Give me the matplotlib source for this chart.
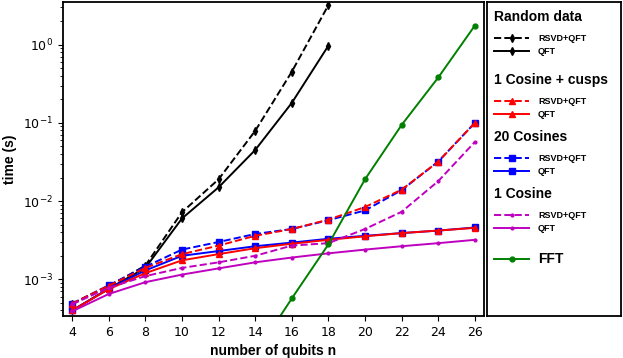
import numpy as np
import matplotlib
matplotlib.use("Agg")
import matplotlib.pyplot as plt

n = [4, 6, 8, 10, 12, 14, 16, 18, 20, 22, 24, 26]
n_rand = [4, 6, 8, 10, 12, 14, 16, 18]
n_fft = [14, 16, 18, 20, 22, 24, 26]

# Random data
rand_rsvd = [4.9e-4, 8.1e-4, 1.5e-3, 7.2e-3, 0.019, 0.079, 0.45, 3.2]
rand_qft = [4.0e-4, 7.6e-4, 1.4e-3, 6.0e-3, 0.015, 0.045, 0.18, 0.97]
# 1 Cosine + cusps
cusp_rsvd = [4.9e-4, 8.3e-4, 1.4e-3, 2.1e-3, 2.7e-3, 3.6e-3, 4.4e-3, 5.8e-3, 8.4e-3, 0.014, 0.032, 0.10]
cusp_qft = [4.0e-4, 7.5e-4, 1.2e-3, 1.75e-3, 2.1e-3, 2.5e-3, 2.85e-3, 3.2e-3, 3.55e-3, 3.9e-3, 4.2e-3, 4.55e-3]
# 20 Cosines
cos20_rsvd = [4.9e-4, 8.4e-4, 1.45e-3, 2.4e-3, 3.0e-3, 3.8e-3, 4.4e-3, 5.7e-3, 7.6e-3, 0.0138, 0.032, 0.10]
cos20_qft = [4.0e-4, 7.6e-4, 1.3e-3, 2.0e-3, 2.3e-3, 2.65e-3, 2.95e-3, 3.3e-3, 3.6e-3, 3.9e-3, 4.2e-3, 4.6e-3]
# 1 Cosine
cos1_rsvd = [4.8e-4, 7.8e-4, 1.1e-3, 1.4e-3, 1.65e-3, 2.0e-3, 2.7e-3, 2.9e-3, 4.4e-3, 7.3e-3, 0.018, 0.057]
cos1_qft = [3.9e-4, 6.5e-4, 9.2e-4, 1.15e-3, 1.38e-3, 1.65e-3, 1.9e-3, 2.15e-3, 2.4e-3, 2.65e-3, 2.9e-3, 3.2e-3]
# FFT
fft = [1.1e-4, 5.7e-4, 2.8e-3, 0.019, 0.094, 0.38, 1.75]

bold_font = ["Liberation Sans", "DejaVu Sans"]

fig = plt.figure(figsize=(6.23, 3.58), dpi=100)
ax = fig.add_axes([0.1011, 0.1173, 0.6758, 0.877])
lax = fig.add_axes([0.7817, 0.1173, 0.2151, 0.877])

lw = 1.4
ax.plot(n_rand, rand_rsvd, "k--", marker="d", ms=4, lw=lw)
ax.plot(n_rand, rand_qft, "k-", marker="d", ms=4, lw=lw)
ax.plot(n, cos20_rsvd, "b--", marker="s", ms=4, lw=lw)
ax.plot(n, cos20_qft, "b-", marker="s", ms=4, lw=lw)
ax.plot(n, cusp_rsvd, "r--", marker="^", ms=4, lw=lw)
ax.plot(n, cusp_qft, "r-", marker="^", ms=4, lw=lw)
ax.plot(n, cos1_rsvd, "m--", marker=".", ms=4, lw=lw)
ax.plot(n, cos1_qft, "m-", marker=".", ms=4, lw=lw)
ax.plot(n_fft, fft, "g-", marker="o", ms=3.5, lw=lw)

ax.set_yscale("log")
ax.set_xlim(3.5, 26.5)
ax.set_ylim(3.4e-4, 3.5)
ax.set_xticks(n)
ax.tick_params(labelsize=9)
ax.set_xlabel("number of qubits n", fontsize=10, fontweight="bold", family=bold_font)
ax.set_ylabel("time (s)", fontsize=10, fontweight="bold", family=bold_font)
for s in ax.spines.values():
    s.set_linewidth(1.3)

# legend panel
lax.set_xlim(0, 134)
lax.set_ylim(314, 0)
lax.set_xticks([])
lax.set_yticks([])
for s in lax.spines.values():
    s.set_linewidth(1.3)

groups = [
    ("Random data", "k", "d", 15),
    ("1 Cosine + cusps", "r", "^", 78),
    ("20 Cosines", "b", "s", 135),
    ("1 Cosine", "m", ".", 192),
]
for title, c, mk, y in groups:
    lax.text(7, y, title, fontsize=10, fontweight="bold", family=bold_font, va="center")
    for dy, ls, lab in [(21, "--", "RSVD+QFT"), (34, "-", "QFT")]:
        lax.plot([7, 24.5, 42], [y + dy] * 3, color=c, ls=ls, lw=lw, marker=mk, ms=4, markevery=[1])
        lax.text(51, y + dy, lab, fontsize=6.5, fontweight="bold", family=bold_font, va="center")
lax.plot([7, 24.5, 42], [257] * 3, color="g", ls="-", lw=lw, marker="o", ms=3.5, markevery=[1])
lax.text(51, 257, "FFT", fontsize=10, fontweight="bold", family=bold_font, va="center")

fig.savefig("out.png", dpi=100)
